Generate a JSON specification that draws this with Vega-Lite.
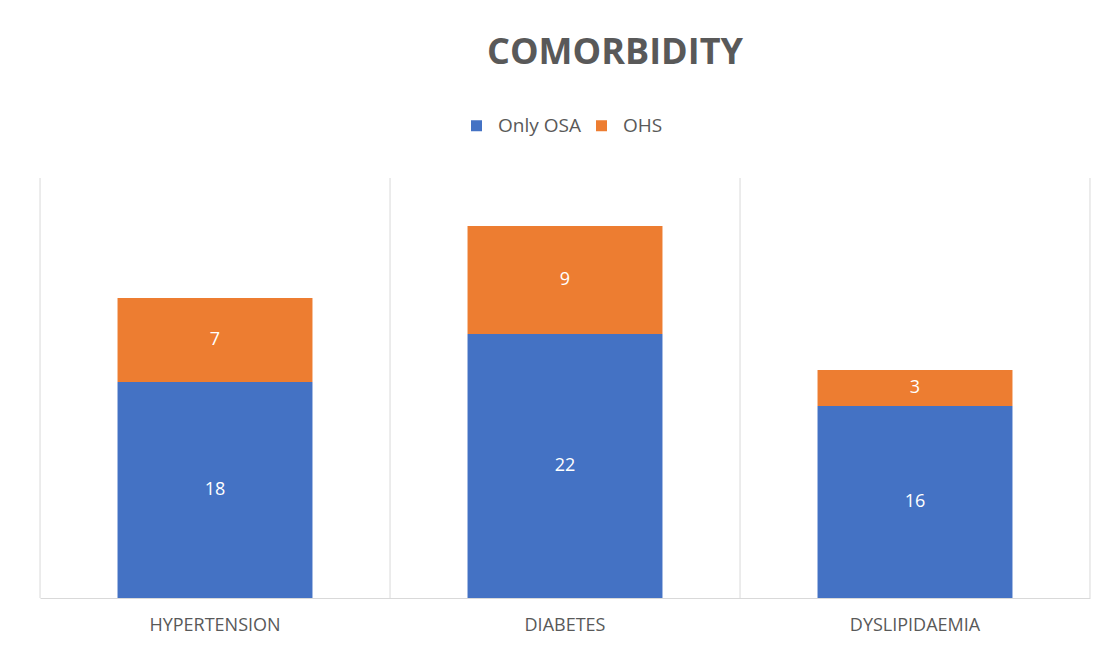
{
  "$schema": "https://vega.github.io/schema/vega-lite/v6.json",
  "width": 1050,
  "height": 420,
  "autosize": {"type": "none"},
  "padding": {"left": 40, "top": 178, "right": 21, "bottom": 53},
  "background": "white",
  "title": {
    "text": "COMORBIDITY",
    "font": "Open Sans",
    "fontSize": 36,
    "fontWeight": "bold",
    "color": "#595959",
    "anchor": "middle",
    "dx": 50,
    "offset": 44
  },
  "config": {
    "view": {"stroke": null},
    "font": "Open Sans"
  },
  "data": {
    "values": [
      {"cat": "HYPERTENSION", "series": "Only OSA", "value": 18},
      {"cat": "HYPERTENSION", "series": "OHS", "value": 7},
      {"cat": "DIABETES", "series": "Only OSA", "value": 22},
      {"cat": "DIABETES", "series": "OHS", "value": 9},
      {"cat": "DYSLIPIDAEMIA", "series": "Only OSA", "value": 16},
      {"cat": "DYSLIPIDAEMIA", "series": "OHS", "value": 3}
    ]
  },
  "transform": [
    {"stack": "value", "groupby": ["cat"], "sort": [{"field": "series", "order": "descending"}], "as": ["v0", "v1"]},
    {"calculate": "(datum.v0 + datum.v1) / 2", "as": "mid"}
  ],
  "encoding": {
    "x": {
      "field": "cat",
      "type": "nominal",
      "sort": ["HYPERTENSION", "DIABETES", "DYSLIPIDAEMIA"],
      "scale": {"paddingInner": 0.443, "paddingOuter": 0.2215},
      "axis": {
        "title": null,
        "labelAngle": 0,
        "grid": false,
        "ticks": false,
        "domainColor": "#d9d9d9",
        "labelFont": "Open Sans",
        "labelFontSize": 18,
        "labelColor": "#595959",
        "labelPadding": 18
      }
    }
  },
  "layer": [
    {
      "transform": [{"filter": "datum.series === 'Only OSA'"}],
      "mark": {"type": "rule", "color": "#d9d9d9", "strokeWidth": 1, "xOffset": -77.5},
      "encoding": {
        "x": {"field": "cat", "type": "nominal", "bandPosition": 0, "sort": ["HYPERTENSION", "DIABETES", "DYSLIPIDAEMIA"]}
      }
    },
    {
      "transform": [{"filter": "datum.series === 'Only OSA' && datum.cat === 'DYSLIPIDAEMIA'"}],
      "mark": {"type": "rule", "color": "#d9d9d9", "strokeWidth": 1, "xOffset": 77.5},
      "encoding": {
        "x": {"field": "cat", "type": "nominal", "bandPosition": 1, "sort": ["HYPERTENSION", "DIABETES", "DYSLIPIDAEMIA"]}
      }
    },
    {
      "mark": {"type": "bar"},
      "encoding": {
        "y": {"field": "v0", "type": "quantitative", "scale": {"domain": [0, 35], "nice": false}, "axis": null},
        "y2": {"field": "v1"},
        "color": {
          "field": "series",
          "type": "nominal",
          "scale": {"domain": ["Only OSA", "OHS"], "range": ["#4472C4", "#ED7D31"]},
          "legend": {
            "title": null,
            "orient": "none",
            "direction": "horizontal",
            "legendX": 427,
            "legendY": -62,
            "symbolType": "square",
            "symbolSize": 121,
            "symbolStrokeWidth": 0,
            "symbolOpacity": 1,
            "labelFont": "Open Sans",
            "labelFontSize": 19,
            "labelColor": "#595959",
            "labelOffset": 12,
            "columnPadding": 11
          }
        }
      }
    },
    {
      "mark": {"type": "text", "color": "white", "font": "Open Sans", "fontSize": 18, "baseline": "middle"},
      "encoding": {
        "y": {"field": "mid", "type": "quantitative", "scale": {"domain": [0, 35], "nice": false}},
        "text": {"field": "value", "type": "quantitative"}
      }
    }
  ]
}
